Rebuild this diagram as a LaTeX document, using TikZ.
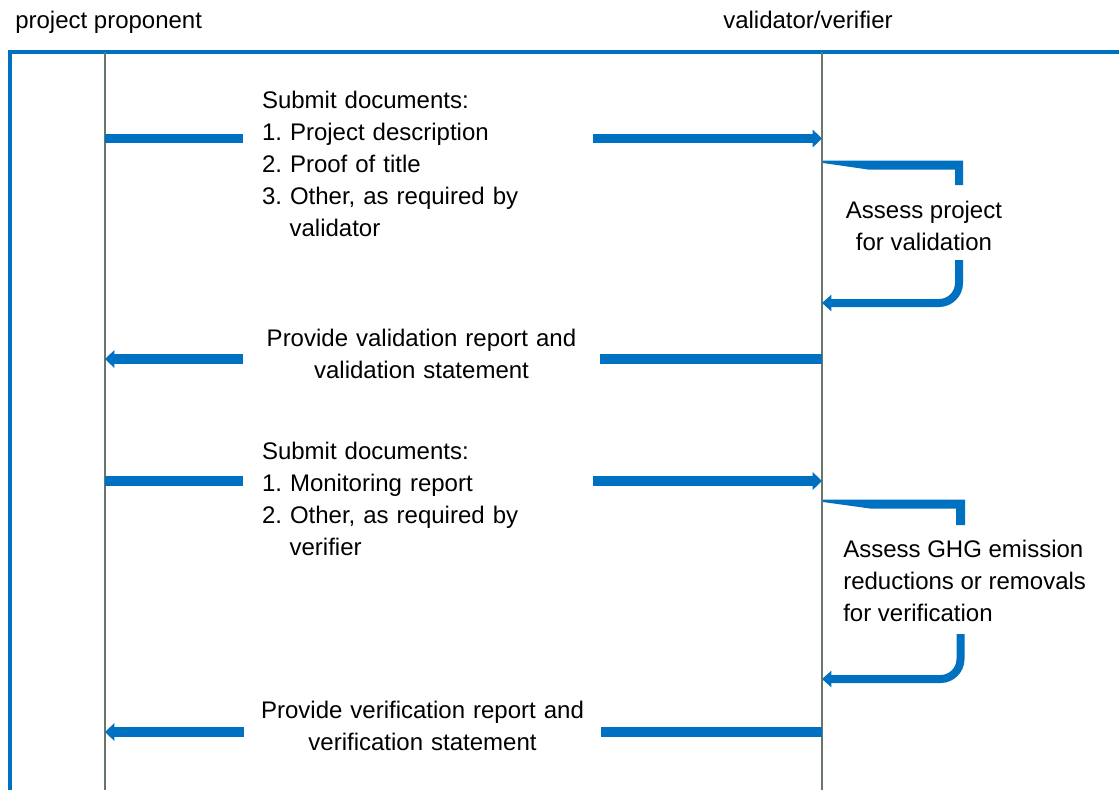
\documentclass[tikz,border=0pt]{standalone}
\usepackage{fontspec}
\setmainfont{Liberation Sans}
\frenchspacing
\usetikzlibrary{arrows.meta,calc,positioning}
\definecolor{flowblue}{RGB}{0,112,192}
\definecolor{lanegray}{RGB}{104,118,108}
\tikzstyle{txt} = [font=\fontsize{18}{24}\selectfont, inner sep=0pt]
\tikzstyle{request} = [txt, text width=234pt, align=left, inner xsep=14.25pt]
\tikzstyle{reply} = [txt, text width=247.5pt, align=center, inner xsep=10pt]
\tikzstyle{lane} = [draw=lanegray, line width=1.5pt]
\tikzstyle{frame} = [draw=flowblue, line width=2.5pt]
\tikzstyle{flowline} = [draw=flowblue, line width=7pt]
\tikzstyle{flowarrow} = [flowline, -{Triangle[width=13pt,length=7pt]}]
\tikzstyle{loopback} = [draw=flowblue, line width=6pt, rounded corners=15pt, -{Triangle[width=12pt,length=7pt]}]

\begin{document}
\begin{tikzpicture}[x=0.75pt, y=-0.75pt]
	\useasboundingbox (0,0) rectangle (1119,790);
	% lanes
	\coordinate (pp) at (105,52);
	\coordinate (vv) at (822,52);
	\coordinate (bottom) at (0,790);
	\node [txt, anchor=base west] (proponent) at (15,28) {project proponent};
	\node [txt, anchor=base west] (verifier) at (723,28) {validator/verifier};
	\draw [frame] (10,790) |- (1119,52);
	\draw [lane] (pp) -- (pp |- bottom);
	\draw [lane] (vv) -- (vv |- bottom);

	% validation
	\node [request] (submit1) at (418,164) {Submit documents:\\ 1. Project description\\ 2. Proof of title\\ 3. Other, as required by\\ \hspace*{1.15em}validator};
	\coordinate (m1) at (0,138.5);
	\path [flowline] (pp |- m1) -- (submit1.west |- m1);
	\path [flowarrow] (submit1.east |- m1) -- (vv |- m1);

	\node [txt, align=center] (assess1) at (924,226) {Assess project\\ for validation};
	\fill [flowblue] (823,160.5) -- (963,160.5) -- (963,185) -- (955,185) -- (955,169.5) -- (868,169.5) -- (823,163) -- cycle;
	\coordinate (r1) at (0,303);
	\path [loopback] (959,260) |- (vv |- r1);

	\node [reply] (validreport) at (421.5,354) {Provide validation report and\\ validation statement};
	\coordinate (m2) at (0,359);
	\path [flowline] (vv |- m2) -- (validreport.east |- m2);
	\path [flowarrow] (validreport.west |- m2) -- (pp |- m2);

	% verification
	\node [request] (submit2) at (418,499) {Submit documents:\\ 1. Monitoring report\\ 2. Other, as required by\\ \hspace*{1.15em}verifier};
	\coordinate (m3) at (0,481);
	\path [flowline] (pp |- m3) -- (submit2.west |- m3);
	\path [flowarrow] (submit2.east |- m3) -- (vv |- m3);

	\node [txt, align=left, anchor=west] (assess2) at (843,581) {Assess GHG emission\\ reductions or removals\\ for verification};
	\fill [flowblue] (823,499.5) -- (965,499.5) -- (965,525) -- (956,525) -- (956,508.5) -- (870,508.5) -- (823,502) -- cycle;
	\coordinate (r2) at (0,679);
	\path [loopback] (960.5,634) |- (vv |- r2);

	\node [reply] (verifreport) at (422.5,726) {Provide verification report and\\ verification statement};
	\coordinate (m4) at (0,732);
	\path [flowline] (vv |- m4) -- (verifreport.east |- m4);
	\path [flowarrow] (verifreport.west |- m4) -- (pp |- m4);
\end{tikzpicture}
\end{document}
